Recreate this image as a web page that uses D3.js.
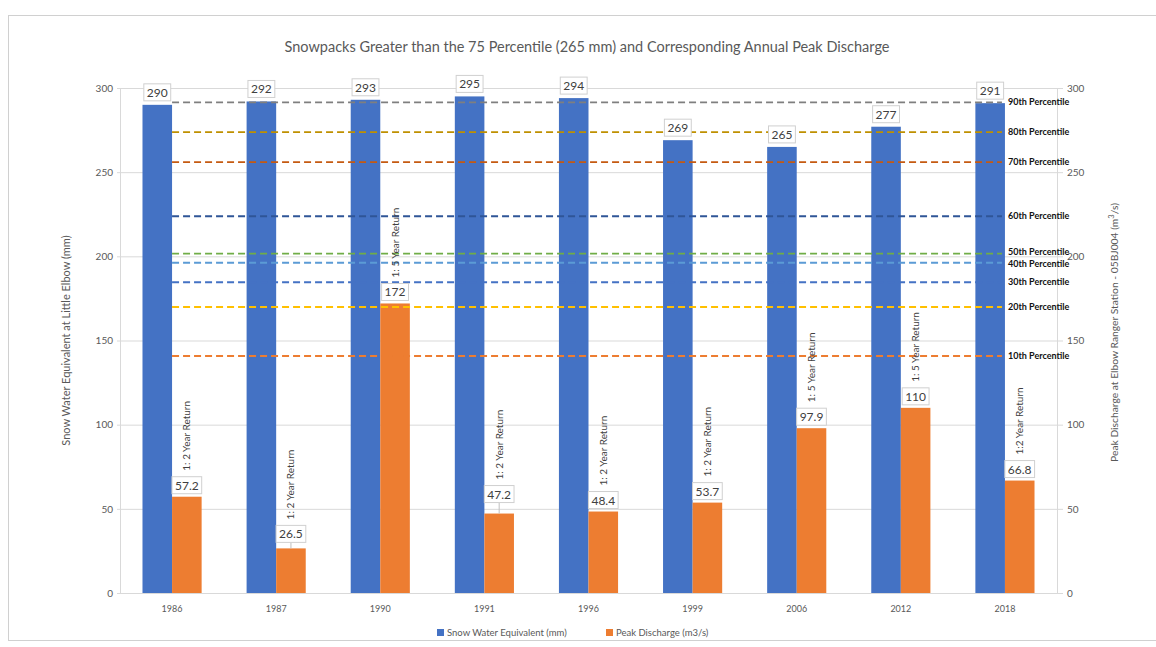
<!DOCTYPE html>
<html>
<head>
<meta charset="utf-8">
<script src="https://cdn.jsdelivr.net/npm/d3@7"></script>
<style>
  html, body { margin: 0; padding: 0; background: #fff; }
  svg { display: block; font-family: Lato, "Open Sans", sans-serif; }
</style>
</head>
<body>
<svg id="chart" width="1156" height="647"></svg>
<script>
// ---- data ----
const categories = ["1986", "1987", "1990", "1991", "1996", "1999", "2006", "2012", "2018"];
const sweValues = [290, 292, 293, 295, 294, 269, 265, 277, 291];
const peakValues = [57.2, 26.5, 172, 47.2, 48.4, 53.7, 97.9, 110, 66.8];
const returnLabels = ["1: 2 Year Return", "1: 2 Year Return", "1: 5 Year Return", "1: 2 Year Return",
  "1: 2 Year Return", "1: 2 Year Return", "1: 5 Year Return", "1: 5 Year Return", "1:2 Year Return"];
const percentileNames = ["90th Percentile", "80th Percentile", "70th Percentile", "60th Percentile",
  "50th Percentile", "40th Percentile", "30th Percentile", "20th Percentile", "10th Percentile"];
const percentileValues = [291.5, 273.8, 256, 223.8, 201.6, 196.2, 184.6, 169.9, 140.8];
const yTicks = [0, 50, 100, 150, 200, 250, 300];
const seriesNames = ["Snow Water Equivalent (mm)", "Peak Discharge (m3/s)"];

// ---- styles ----
const blue = "#4472c4", orange = "#ed7d31";
const percentileColors = ["#7f7f7f", "#bf9000", "#c55a11", "#2f5597", "#70ad47", "#5b9bd5", "#4472c4", "#ffc000", "#ed7d31"];
const grid = "#d9d9d9", tickColor = "#595959", labelColor = "#404040";

const svg = d3.select("#chart");
const pL = 120, pR = 1057, pT = 88, pB = 593;

// outer border
svg.append("rect").attr("x", 8.5).attr("y", 15.5).attr("width", 1200).attr("height", 625)
  .attr("fill", "none").attr("stroke", "#d0d0d0").attr("stroke-width", 1);

const x = d3.scaleBand().domain(categories).range([pL, pR]).paddingInner(0.432).paddingOuter(0.216);
const xSub = d3.scaleBand().domain([0, 1]).range([0, x.bandwidth()]);
const yL = d3.scaleLinear().domain([0, 300]).range([pB, pT]);
const yR = d3.scaleLinear().domain([0, 300]).range([pB, pT]);

// gridlines
svg.append("g").selectAll("line").data(yTicks).join("line")
  .attr("x1", pL - 3).attr("x2", pR + 6)
  .attr("y1", d => yL(d) + 0.5).attr("y2", d => yL(d) + 0.5)
  .attr("stroke", grid).attr("stroke-width", 1);

// axis vertical lines
svg.append("line").attr("x1", pL + 0.5).attr("x2", pL + 0.5).attr("y1", pT).attr("y2", pB)
  .attr("stroke", grid);
svg.append("line").attr("x1", pR + 0.5).attr("x2", pR + 0.5).attr("y1", pT).attr("y2", pB)
  .attr("stroke", grid);

// left axis
const axL = d3.axisLeft(yL).tickValues(yTicks).tickSize(0).tickPadding(7);
const gL = svg.append("g").attr("transform", `translate(${pL},0)`).call(axL);
gL.select(".domain").remove();
gL.selectAll("text").attr("fill", tickColor).style("font-size", "10px").style("font-family", "Lato");

// right axis
const axR = d3.axisRight(yR).tickValues(yTicks).tickSize(0).tickPadding(10);
const gR = svg.append("g").attr("transform", `translate(${pR},0)`).call(axR);
gR.select(".domain").remove();
gR.selectAll("text").attr("fill", tickColor).style("font-size", "10px").style("font-family", "Lato");

// x axis
const axX = d3.axisBottom(x).tickSize(0).tickPadding(13);
const gX = svg.append("g").attr("transform", `translate(0,${pB})`).call(axX);
gX.select(".domain").remove();
gX.selectAll("text").attr("fill", tickColor).style("font-size", "9px").style("font-family", "Lato");

// bars
const rows = categories.map((c, i) => ({ c, swe: sweValues[i], peak: peakValues[i], ret: returnLabels[i] }));
svg.append("g").selectAll("rect").data(rows).join("rect")
  .attr("x", d => x(d.c) + xSub(0)).attr("width", xSub.bandwidth())
  .attr("y", d => yL(d.swe)).attr("height", d => yL(0) - yL(d.swe))
  .attr("fill", blue);
svg.append("g").selectAll("rect").data(rows).join("rect")
  .attr("x", d => x(d.c) + xSub(1)).attr("width", xSub.bandwidth())
  .attr("y", d => yR(d.peak)).attr("height", d => yR(0) - yR(d.peak))
  .attr("fill", orange);

// percentile lines
const pStart = x(categories[0]) + xSub(1);
const pEnd = x(categories[categories.length - 1]) + xSub(1) - 3;
const pct = percentileNames.map((n, i) => ({ n, v: percentileValues[i], col: percentileColors[i] }));
svg.append("g").selectAll("line").data(pct).join("line")
  .attr("x1", pStart).attr("x2", pEnd)
  .attr("y1", d => yL(d.v)).attr("y2", d => yL(d.v))
  .attr("stroke", d => d.col).attr("stroke-width", 1.8).attr("stroke-dasharray", "7,4");
const nudge = { "50th Percentile": -2, "40th Percentile": 1 };
svg.append("g").selectAll("text").data(pct).join("text")
  .attr("x", 1008).attr("y", d => yL(d.v) + (nudge[d.n] || 0))
  .attr("dy", "0.35em")
  .attr("fill", "#111").style("font-size", "9px").style("font-weight", "bold")
  .text(d => d.n);

// data labels
function labelBox(g, cx, bottomY, txt) {
  const t = g.append("text").attr("x", cx).attr("y", bottomY - 4)
    .attr("text-anchor", "middle").attr("fill", labelColor).style("font-size", "12px").text(txt);
  const w = t.node().getComputedTextLength() + 6;
  g.insert("rect", "text").attr("x", cx - w / 2).attr("y", bottomY - 17).attr("width", w).attr("height", 17)
    .attr("fill", "#fff").attr("stroke", "#d0d0d0").attr("stroke-width", 1);
}
const gLab = svg.append("g");
rows.forEach(d => {
  const g = gLab.append("g");
  labelBox(g, x(d.c) + xSub(0) + xSub.bandwidth() / 2, yL(d.swe) - 4, String(d.swe));
});
const leaderGap = { "1987": 3, "1991": 8 };
rows.forEach(d => {
  const g = gLab.append("g");
  const cx = x(d.c) + xSub(1) + xSub.bandwidth() / 2;
  const extra = leaderGap[d.c] || 0;
  const b = yR(d.peak) - 3 - extra;
  if (extra) {
    g.append("line").attr("x1", cx).attr("x2", cx).attr("y1", b).attr("y2", yR(d.peak))
      .attr("stroke", "#bfbfbf");
  }
  labelBox(g, cx, b, String(d.peak));
  // return annotation
  gLab.append("text")
    .attr("transform", `translate(${cx + 3.5},${b - 17 - 6}) rotate(-90)`)
    .attr("text-anchor", "start").attr("fill", labelColor).style("font-size", "10px")
    .text(d.ret);
});

// title
svg.append("text").attr("x", 587).attr("y", 52).attr("text-anchor", "middle")
  .attr("fill", tickColor).style("font-size", "14.5px").text("Snowpacks Greater than the 75 Percentile (265 mm) and Corresponding Annual Peak Discharge");

// axis titles
svg.append("text").attr("transform", `translate(70,${(pT + pB) / 2}) rotate(-90)`)
  .attr("text-anchor", "middle").attr("fill", tickColor).style("font-size", "11px")
  .text("Snow Water Equivalent at Little Elbow (mm)");
const rt = svg.append("text").attr("transform", `translate(1118,${(pT + pB) / 2 - 8}) rotate(-90)`)
  .attr("text-anchor", "middle").attr("fill", tickColor).style("font-size", "10.3px");
rt.append("tspan").text("Peak Discharge  at Elbow Ranger Station  - 05BJ004 (m");
rt.append("tspan").attr("dy", -4).style("font-size", "7.5px").text("3");
rt.append("tspan").attr("dy", 4).text("/s)");

// legend
const legX = [437, 606];
const legCols = [blue, orange];
const gLeg = svg.append("g");
seriesNames.forEach((n, i) => {
  gLeg.append("rect").attr("x", legX[i]).attr("y", 629).attr("width", 7).attr("height", 7).attr("fill", legCols[i]);
  gLeg.append("text").attr("x", legX[i] + 10).attr("y", 636).attr("fill", tickColor)
    .style("font-size", "9.5px").text(n);
});
</script>
</body>
</html>
